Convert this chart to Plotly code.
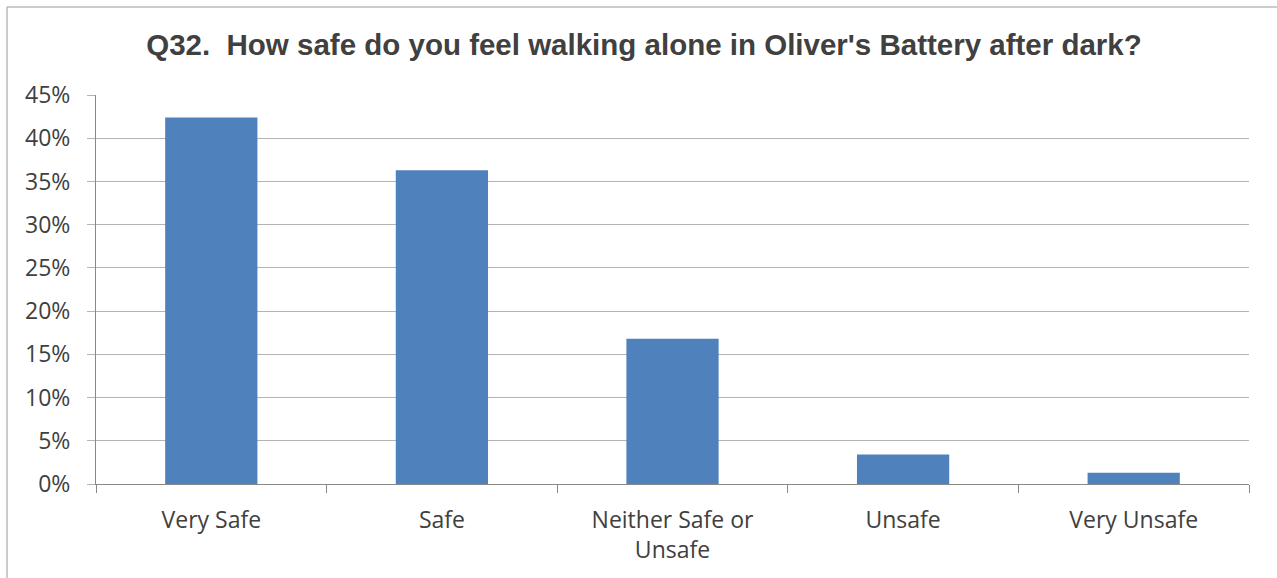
import plotly.graph_objects as go

categories = ["Very Safe", "Safe", "Neither Safe or<br>Unsafe", "Unsafe", "Very Unsafe"]
values = [0.424, 0.363, 0.168, 0.034, 0.013]
tick_vals = [0, 0.05, 0.10, 0.15, 0.20, 0.25, 0.30, 0.35, 0.40, 0.45]
tick_text = ["0%", "5%", "10%", "15%", "20%", "25%", "30%", "35%", "40%", "45%"]
title_text = "Q32.  How safe do you feel walking alone in Oliver's Battery after dark?"

W, H = 1277, 578
L, R, T, B = 96, 28, 95, 94
pw, ph = W - L - R, H - T - B

def px_x(p):
    return (p - L) / pw

def px_y(p):
    return (H - B - p) / ph

fig = go.Figure()
fig.add_trace(go.Bar(x=categories, y=values, marker=dict(color="#4F81BD", line=dict(width=0))))

fig.update_layout(
    width=W, height=H,
    margin=dict(l=L, r=R, t=T, b=B),
    paper_bgcolor="white", plot_bgcolor="white",
    bargap=0.6,
    showlegend=False,
    title=dict(text="<b>" + title_text + "</b>", x=644 / W, xref="container", xanchor="center",
               y=1 - 45 / H, yref="container", yanchor="middle",
               font=dict(family="Liberation Sans, Arial", size=29.5, color="#404040")),
    font=dict(family="Open Sans", color="#404040"),
)
fig.update_xaxes(
    type="category", tickson="boundaries", ticks="outside", ticklen=8, tickcolor="#888888",
    showline=True, linecolor="#888888", linewidth=1, showgrid=False,
    tickfont=dict(family="Open Sans", size=23, color="#404040"), ticklabelstandoff=15,
)
fig.update_yaxes(
    range=[0, 0.45], tickvals=tick_vals, ticktext=tick_text,
    showgrid=True, gridcolor="#B3B3B3", gridwidth=1,
    ticks="outside", ticklen=8, tickcolor="#B3B3B3",
    showline=True, linecolor="#888888", linewidth=1, zeroline=False,
    tickfont=dict(family="Open Sans", size=23, color="#404040"), ticklabelstandoff=12,
)
fig.add_shape(type="rect", xref="paper", yref="paper",
              x0=px_x(7), x1=px_x(1300), y0=px_y(620), y1=px_y(7),
              line=dict(color="#9A9A9A", width=1), fillcolor="rgba(0,0,0,0)", layer="below")

fig.write_html("out.html", config={"displayModeBar": False},
               post_script="document.body.style.margin='0px';document.body.style.overflow='hidden';")
